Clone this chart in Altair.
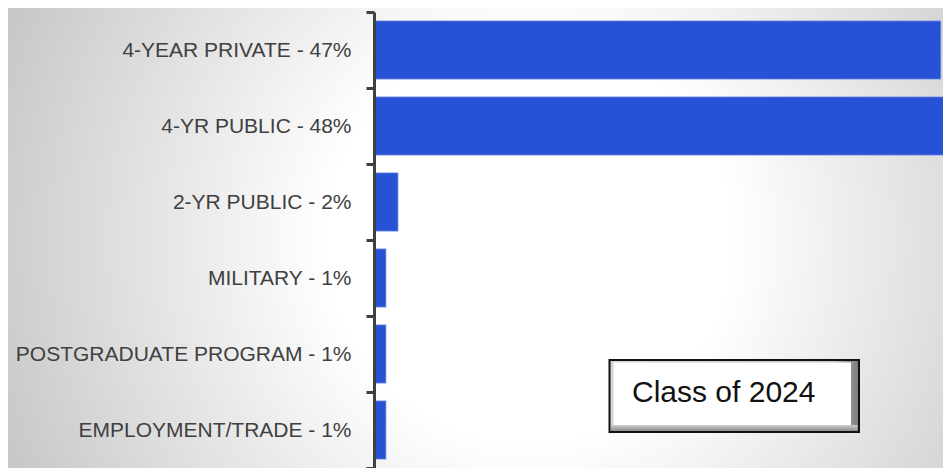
import altair as alt
import pandas as pd

# ---- data ----
categories = [
    "4-YEAR PRIVATE - 47%",
    "4-YR PUBLIC - 48%",
    "2-YR PUBLIC - 2%",
    "MILITARY - 1%",
    "POSTGRADUATE PROGRAM - 1%",
    "EMPLOYMENT/TRADE - 1%",
]
values = [47, 48, 2, 1, 1, 1]
annotation = "Class of 2024"

df = pd.DataFrame({"cat": categories, "val": values})
one = pd.DataFrame({"k": [0]})

PLOT_W = 569
PLOT_H = 456
PAD_L = 366
PAD_T = 4

# background radial gradient covering whole chart
bg = alt.Chart(one).mark_rect(
    fill=alt.Gradient(
        gradient="radial",
        stops=[
            alt.GradientStop(color="#ffffff", offset=0),
            alt.GradientStop(color="#ffffff", offset=0.36),
            alt.GradientStop(color="#c8c8c8", offset=1),
        ],
        x1=0.558, y1=0.502, r1=0,
        x2=0.558, y2=0.502, r2=0.6,
    )
).encode(
    x=alt.value(-PAD_L), x2=alt.value(PLOT_W),
    y=alt.value(-PAD_T), y2=alt.value(PLOT_H),
)

bars = alt.Chart(df).mark_bar(
    color="#2752d6",
    height={"band": 0.77},
    clip=True,
    stroke="#a9bbf0",
    strokeWidth=1,
    strokeOpacity=0.7,
).encode(
    y=alt.Y(
        "cat:N",
        sort=categories,
        title=None,
        scale=alt.Scale(paddingInner=0, paddingOuter=0),
        axis=alt.Axis(
            domain=True,
            domainColor="#404040",
            domainWidth=3,
            ticks=True,
            tickColor="#404040",
            tickWidth=3,
            tickSize=8,
            tickBand="extent",
            labelFont="Liberation Sans",
            labelFontSize=21,
            labelColor="#404040",
            labelPadding=15,
            labelLimit=0,
            grid=False,
            zindex=1,
        ),
    ),
    x=alt.X(
        "val:Q",
        scale=alt.Scale(domain=[0, 47.17], nice=False, zero=True),
        axis=None,
    ),
)

# annotation box
box_outer = alt.Chart(one).mark_rect(
    fill=alt.Gradient(
        gradient="linear",
        stops=[
            alt.GradientStop(color="#d4d4d4", offset=0),
            alt.GradientStop(color="#c4c4c4", offset=0.9),
            alt.GradientStop(color="#7a7a7a", offset=1),
        ],
        x1=0, y1=0, x2=1, y2=0,
    ),
    stroke="#111111",
    strokeWidth=2,
).encode(
    x=alt.value(235.5), x2=alt.value(485),
    y=alt.value(348), y2=alt.value(420),
)

box_bottom = alt.Chart(one).mark_rect(
    fill=alt.Gradient(
        gradient="linear",
        stops=[
            alt.GradientStop(color="#d0d0d0", offset=0),
            alt.GradientStop(color="#8c8c8c", offset=1),
        ],
        x1=0, y1=0, x2=0, y2=1,
    ),
).encode(
    x=alt.value(237), x2=alt.value(483.5),
    y=alt.value(413), y2=alt.value(419),
)

box_inner = alt.Chart(one).mark_rect(fill="#ffffff").encode(
    x=alt.value(239.5), x2=alt.value(477),
    y=alt.value(350.5), y2=alt.value(413),
)

box_text = alt.Chart(one).mark_text(
    text=annotation,
    font="Liberation Sans",
    fontSize=30,
    color="#111111",
    align="left",
    baseline="alphabetic",
).encode(
    x=alt.value(258), y=alt.value(390),
)

chart = alt.layer(bg, bars, box_outer, box_bottom, box_inner, box_text).properties(
    width=PLOT_W,
    height=PLOT_H,
    autosize=alt.AutoSizeParams(type="none"),
    padding={"left": PAD_L, "top": PAD_T, "right": 0, "bottom": 0},
).configure_view(stroke=None)

chart.save("out.html", embed_options={"renderer": "svg", "actions": False})
